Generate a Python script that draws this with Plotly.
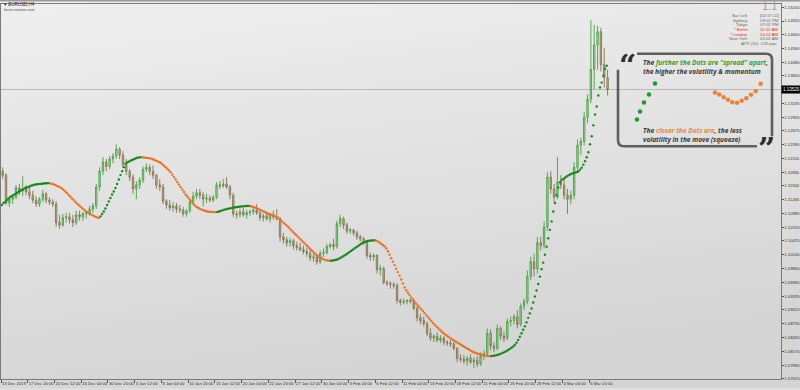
import base64
import plotly.graph_objects as go

# ---------------- data (EURUSD, 8h aggregation of the H4 chart) ----------------
bar_open = [
    1.1185, 1.1177, 1.1120, 1.1128, 1.1132, 1.1151, 1.1145, 1.1149, 1.1143, 1.1136,
    1.1126, 1.1118, 1.1128, 1.1139, 1.1126, 1.1122, 1.1118, 1.1080, 1.1075, 1.1090,
    1.1092, 1.1086, 1.1080, 1.1096, 1.1092, 1.1098, 1.1100, 1.1108, 1.1114, 1.1153,
    1.1185, 1.1204, 1.1195, 1.1210, 1.1216, 1.1230, 1.1218, 1.1199, 1.1185, 1.1173,
    1.1149, 1.1157, 1.1167, 1.1189, 1.1193, 1.1185, 1.1177, 1.1157, 1.1153, 1.1124,
    1.1116, 1.1110, 1.1114, 1.1108, 1.1106, 1.1098, 1.1104, 1.1122, 1.1134, 1.1141,
    1.1136, 1.1128, 1.1130, 1.1126, 1.1132, 1.1157, 1.1155, 1.1159, 1.1153, 1.1136,
    1.1098, 1.1096, 1.1102, 1.1096, 1.1100, 1.1102, 1.1106, 1.1100, 1.1090, 1.1094,
    1.1088, 1.1096, 1.1092, 1.1088, 1.1051, 1.1045, 1.1039, 1.1043, 1.1033, 1.1029,
    1.1025, 1.1021, 1.1017, 1.1008, 1.1010, 1.1000, 1.1017, 1.1019, 1.1031, 1.1035,
    1.1031, 1.1078, 1.1088, 1.1075, 1.1063, 1.1065, 1.1059, 1.1051, 1.1047, 1.1039,
    1.1013, 1.1010, 1.1013, 1.0984, 1.0986, 1.0958, 1.0956, 1.0954, 1.0952, 1.0921,
    1.0917, 1.0919, 1.0921, 1.0919, 1.0905, 1.0886, 1.0880, 1.0874, 1.0854, 1.0844,
    1.0848, 1.0840, 1.0844, 1.0836, 1.0834, 1.0832, 1.0823, 1.0803, 1.0801, 1.0797,
    1.0803, 1.0795, 1.0799, 1.0791, 1.0807, 1.0813, 1.0854, 1.0828, 1.0823, 1.0864,
    1.0848, 1.0844, 1.0878, 1.0880, 1.0888, 1.0872, 1.0909, 1.0919, 1.0970, 1.1000,
    1.0986, 1.1039, 1.1033, 1.1071, 1.1173, 1.1149, 1.1132, 1.1163, 1.1157, 1.1136,
    1.1128, 1.1136, 1.1193, 1.1238, 1.1246, 1.1295, 1.1332, 1.1393, 1.1443, 1.1470,
    1.1403, 1.1376,
]
bar_high = [
    1.1193, 1.1181, 1.1132, 1.1136, 1.1157, 1.1159, 1.1175, 1.1157, 1.1153, 1.1145,
    1.1134, 1.1132, 1.1147, 1.1143, 1.1132, 1.1128, 1.1124, 1.1096, 1.1098, 1.1100,
    1.1100, 1.1096, 1.1104, 1.1104, 1.1102, 1.1104, 1.1114, 1.1120, 1.1159, 1.1193,
    1.1214, 1.1210, 1.1216, 1.1222, 1.1240, 1.1234, 1.1226, 1.1210, 1.1189, 1.1179,
    1.1165, 1.1173, 1.1195, 1.1201, 1.1199, 1.1197, 1.1179, 1.1169, 1.1159, 1.1128,
    1.1126, 1.1122, 1.1120, 1.1116, 1.1112, 1.1108, 1.1128, 1.1143, 1.1149, 1.1149,
    1.1143, 1.1139, 1.1136, 1.1136, 1.1163, 1.1165, 1.1169, 1.1173, 1.1157, 1.1141,
    1.1104, 1.1108, 1.1110, 1.1106, 1.1106, 1.1112, 1.1118, 1.1108, 1.1098, 1.1102,
    1.1100, 1.1104, 1.1108, 1.1092, 1.1059, 1.1051, 1.1049, 1.1047, 1.1041, 1.1039,
    1.1033, 1.1029, 1.1027, 1.1017, 1.1015, 1.1023, 1.1027, 1.1037, 1.1039, 1.1047,
    1.1084, 1.1096, 1.1092, 1.1080, 1.1069, 1.1067, 1.1063, 1.1055, 1.1051, 1.1041,
    1.1019, 1.1017, 1.1015, 1.0994, 1.0990, 1.0962, 1.0960, 1.0958, 1.0956, 1.0925,
    1.0925, 1.0923, 1.0925, 1.0925, 1.0909, 1.0893, 1.0888, 1.0878, 1.0864, 1.0852,
    1.0856, 1.0850, 1.0848, 1.0840, 1.0840, 1.0836, 1.0826, 1.0811, 1.0809, 1.0807,
    1.0811, 1.0805, 1.0807, 1.0815, 1.0819, 1.0864, 1.0862, 1.0836, 1.0872, 1.0868,
    1.0858, 1.0884, 1.0888, 1.0893, 1.0901, 1.0915, 1.0925, 1.0982, 1.1010, 1.1017,
    1.1051, 1.1051, 1.1082, 1.1183, 1.1185, 1.1159, 1.1214, 1.1177, 1.1169, 1.1149,
    1.1145, 1.1204, 1.1250, 1.1254, 1.1307, 1.1342, 1.1494, 1.1484, 1.1482, 1.1478,
    1.1437, 1.1393,
]
bar_low = [
    1.1169, 1.1116, 1.1112, 1.1118, 1.1128, 1.1136, 1.1134, 1.1136, 1.1128, 1.1120,
    1.1112, 1.1112, 1.1122, 1.1120, 1.1116, 1.1112, 1.1071, 1.1067, 1.1071, 1.1080,
    1.1078, 1.1071, 1.1075, 1.1084, 1.1084, 1.1088, 1.1094, 1.1100, 1.1108, 1.1145,
    1.1177, 1.1185, 1.1189, 1.1201, 1.1210, 1.1210, 1.1193, 1.1177, 1.1165, 1.1139,
    1.1128, 1.1149, 1.1161, 1.1183, 1.1177, 1.1169, 1.1149, 1.1145, 1.1118, 1.1108,
    1.1104, 1.1102, 1.1100, 1.1100, 1.1092, 1.1092, 1.1100, 1.1116, 1.1128, 1.1128,
    1.1114, 1.1120, 1.1122, 1.1122, 1.1128, 1.1149, 1.1151, 1.1149, 1.1128, 1.1092,
    1.1088, 1.1090, 1.1092, 1.1088, 1.1094, 1.1096, 1.1096, 1.1084, 1.1082, 1.1084,
    1.1080, 1.1086, 1.1084, 1.1041, 1.1037, 1.1031, 1.1031, 1.1025, 1.1023, 1.1021,
    1.1015, 1.1010, 1.1002, 1.1000, 1.0994, 1.0996, 1.1010, 1.1015, 1.1027, 1.1023,
    1.1027, 1.1071, 1.1067, 1.1057, 1.1057, 1.1053, 1.1045, 1.1041, 1.1035, 1.1006,
    1.1002, 1.1002, 1.0976, 1.0972, 1.0954, 1.0950, 1.0945, 1.0945, 1.0915, 1.0911,
    1.0913, 1.0913, 1.0915, 1.0901, 1.0878, 1.0872, 1.0868, 1.0848, 1.0838, 1.0836,
    1.0836, 1.0834, 1.0830, 1.0828, 1.0826, 1.0819, 1.0795, 1.0795, 1.0791, 1.0787,
    1.0791, 1.0783, 1.0785, 1.0787, 1.0799, 1.0807, 1.0819, 1.0815, 1.0819, 1.0840,
    1.0836, 1.0840, 1.0868, 1.0872, 1.0864, 1.0868, 1.0901, 1.0913, 1.0962, 1.0970,
    1.0976, 1.1023, 1.1027, 1.1063, 1.1139, 1.1122, 1.1128, 1.1149, 1.1128, 1.1098,
    1.1118, 1.1128, 1.1185, 1.1218, 1.1238, 1.1283, 1.1324, 1.1352, 1.1393, 1.1389,
    1.1356, 1.1340,
]
bar_close = [
    1.1177, 1.1120, 1.1128, 1.1132, 1.1151, 1.1145, 1.1149, 1.1143, 1.1136, 1.1126,
    1.1118, 1.1128, 1.1139, 1.1126, 1.1122, 1.1118, 1.1080, 1.1075, 1.1090, 1.1092,
    1.1086, 1.1080, 1.1096, 1.1092, 1.1098, 1.1100, 1.1108, 1.1114, 1.1153, 1.1185,
    1.1204, 1.1195, 1.1210, 1.1216, 1.1230, 1.1218, 1.1199, 1.1185, 1.1173, 1.1149,
    1.1157, 1.1167, 1.1189, 1.1193, 1.1185, 1.1177, 1.1157, 1.1153, 1.1124, 1.1116,
    1.1110, 1.1114, 1.1108, 1.1106, 1.1098, 1.1104, 1.1122, 1.1134, 1.1141, 1.1136,
    1.1128, 1.1130, 1.1126, 1.1132, 1.1157, 1.1155, 1.1159, 1.1153, 1.1136, 1.1098,
    1.1096, 1.1102, 1.1096, 1.1100, 1.1102, 1.1106, 1.1100, 1.1090, 1.1094, 1.1088,
    1.1096, 1.1092, 1.1088, 1.1051, 1.1045, 1.1039, 1.1043, 1.1033, 1.1029, 1.1025,
    1.1021, 1.1017, 1.1008, 1.1010, 1.1000, 1.1017, 1.1019, 1.1031, 1.1035, 1.1031,
    1.1078, 1.1088, 1.1075, 1.1063, 1.1065, 1.1059, 1.1051, 1.1047, 1.1039, 1.1013,
    1.1010, 1.1013, 1.0984, 1.0986, 1.0958, 1.0956, 1.0954, 1.0952, 1.0921, 1.0917,
    1.0919, 1.0921, 1.0919, 1.0905, 1.0886, 1.0880, 1.0874, 1.0854, 1.0844, 1.0848,
    1.0840, 1.0844, 1.0836, 1.0834, 1.0832, 1.0823, 1.0803, 1.0801, 1.0797, 1.0803,
    1.0795, 1.0799, 1.0791, 1.0807, 1.0813, 1.0854, 1.0828, 1.0823, 1.0864, 1.0848,
    1.0844, 1.0878, 1.0880, 1.0888, 1.0872, 1.0909, 1.0919, 1.0970, 1.1000, 1.0986,
    1.1039, 1.1033, 1.1071, 1.1173, 1.1149, 1.1132, 1.1163, 1.1157, 1.1136, 1.1128,
    1.1136, 1.1193, 1.1238, 1.1246, 1.1295, 1.1332, 1.1393, 1.1443, 1.1470, 1.1403,
    1.1376, 1.1352,
]

# indicator dots, one per H4 bar
indicator_dots = [
    1.11161, 1.11202, 1.11222, 1.11263, 1.11293, 1.11324, 1.11344, 1.11365, 1.11385, 1.11405,
    1.11426, 1.11446, 1.11466, 1.11486, 1.11507, 1.11517, 1.11527, 1.11548, 1.11558, 1.11568,
    1.11578, 1.11584, 1.11588, 1.11592, 1.11596, 1.11600, 1.11604, 1.11606, 1.11608, 1.11602,
    1.11592, 1.11582, 1.11568, 1.11552, 1.11535, 1.11521, 1.11497, 1.11466, 1.11436, 1.11405,
    1.11365, 1.11334, 1.11293, 1.11263, 1.11222, 1.11192, 1.11161, 1.11131, 1.11100, 1.11070,
    1.11039, 1.11019, 1.10995, 1.10974, 1.10954, 1.10938, 1.10921, 1.10907, 1.10897, 1.10927,
    1.10978, 1.11029, 1.11090, 1.11161, 1.11232, 1.11304, 1.11375, 1.11436, 1.11507, 1.11588,
    1.11680, 1.11771, 1.11852, 1.11934, 1.12005, 1.12031, 1.12045, 1.12066, 1.12080, 1.12096,
    1.12111, 1.12125, 1.12133, 1.12137, 1.12135, 1.12131, 1.12127, 1.12123, 1.12119, 1.12113,
    1.12100, 1.12086, 1.12070, 1.12056, 1.12041, 1.12025, 1.11995, 1.11964, 1.11934, 1.11903,
    1.11873, 1.11832, 1.11781, 1.11731, 1.11680, 1.11629, 1.11578, 1.11527, 1.11476, 1.11426,
    1.11375, 1.11334, 1.11293, 1.11253, 1.11212, 1.11171, 1.11135, 1.11114, 1.11094, 1.11076,
    1.11060, 1.11047, 1.11037, 1.11029, 1.11023, 1.11019, 1.11017, 1.11015, 1.11014, 1.11019,
    1.11029, 1.11039, 1.11051, 1.11062, 1.11072, 1.11080, 1.11088, 1.11096, 1.11102, 1.11108,
    1.11114, 1.11121, 1.11125, 1.11129, 1.11133, 1.11137, 1.11139, 1.11141, 1.11143, 1.11135,
    1.11125, 1.11114, 1.11102, 1.11088, 1.11072, 1.11056, 1.11039, 1.11023, 1.11007, 1.10993,
    1.10978, 1.10964, 1.10950, 1.10936, 1.10921, 1.10907, 1.10877, 1.10846, 1.10816, 1.10785,
    1.10755, 1.10724, 1.10690, 1.10653, 1.10618, 1.10584, 1.10551, 1.10519, 1.10484, 1.10450,
    1.10417, 1.10383, 1.10348, 1.10316, 1.10281, 1.10246, 1.10214, 1.10181, 1.10149, 1.10120,
    1.10098, 1.10078, 1.10059, 1.10045, 1.10033, 1.10025, 1.10021, 1.10023, 1.10027, 1.10033,
    1.10041, 1.10053, 1.10069, 1.10088, 1.10108, 1.10129, 1.10151, 1.10173, 1.10198, 1.10222,
    1.10246, 1.10271, 1.10295, 1.10320, 1.10342, 1.10364, 1.10385, 1.10401, 1.10415, 1.10425,
    1.10431, 1.10435, 1.10437, 1.10439, 1.10433, 1.10417, 1.10393, 1.10368, 1.10342, 1.10316,
    1.10277, 1.10216, 1.10145, 1.10074, 1.10003, 1.09932, 1.09860, 1.09789, 1.09718, 1.09637,
    1.09555, 1.09474, 1.09417, 1.09368, 1.09320, 1.09271, 1.09224, 1.09183, 1.09145, 1.09108,
    1.09069, 1.09031, 1.08992, 1.08951, 1.08911, 1.08870, 1.08831, 1.08791, 1.08750, 1.08716,
    1.08681, 1.08647, 1.08612, 1.08580, 1.08547, 1.08523, 1.08499, 1.08474, 1.08450, 1.08425,
    1.08401, 1.08381, 1.08360, 1.08340, 1.08320, 1.08299, 1.08279, 1.08259, 1.08238, 1.08218,
    1.08198, 1.08177, 1.08159, 1.08145, 1.08133, 1.08120, 1.08110, 1.08100, 1.08092, 1.08084,
    1.08078, 1.08074, 1.08072, 1.08074, 1.08078, 1.08084, 1.08092, 1.08102, 1.08114, 1.08128,
    1.08143, 1.08159, 1.08177, 1.08198, 1.08220, 1.08245, 1.08271, 1.08299, 1.08346, 1.08401,
    1.08468, 1.08539, 1.08610, 1.08681, 1.08763, 1.08854, 1.08946, 1.09047, 1.09169, 1.09291,
    1.09413, 1.09545, 1.09697, 1.09850, 1.09982, 1.10145, 1.10307, 1.10480, 1.10653, 1.10825,
    1.11029, 1.11202, 1.11364, 1.11517, 1.11628, 1.11669, 1.11694, 1.11718, 1.11742, 1.11765,
    1.11785, 1.11799, 1.11812, 1.11822, 1.11832, 1.11844, 1.11883, 1.11923, 1.11985, 1.12056,
    1.12137, 1.12239, 1.12401, 1.12564, 1.12788, 1.13011, 1.13174, 1.13398, 1.13560, 1.13662,
    1.13804, 1.13946, 1.14007,
]

time_labels = [
    "13 Dec 2019", "17 Dec 20:00", "20 Dec 12:00", "26 Dec 04:00", "30 Dec 20:00",
    "3 Jan 12:00", "8 Jan 04:00", "10 Jan 20:00", "15 Jan 12:00", "20 Jan 04:00",
    "22 Jan 20:00", "27 Jan 12:00", "30 Jan 04:00", "3 Feb 20:00", "6 Feb 12:00",
    "11 Feb 04:00", "13 Feb 20:00", "18 Feb 12:00", "21 Feb 04:00", "25 Feb 20:00",
    "28 Feb 12:00", "4 Mar 04:00", "6 Mar 20:00",
]
price_ticks = [
    1.07610, 1.07890, 1.08170, 1.08455, 1.08735, 1.09015, 1.09295, 1.09580, 1.09860,
    1.10140, 1.10425, 1.10705, 1.10985, 1.11265, 1.11550, 1.11830, 1.12110, 1.12390,
    1.12675, 1.12955, 1.13235, 1.13515, 1.13800, 1.14080, 1.14360, 1.14640, 1.14920,
    1.15200,
]

# small illustration dots inside the callout (callout pixel space)
callout_fast_x = [637, 640, 644, 649, 655]
callout_fast_y = [120, 112, 103, 95, 84]
callout_slow_x = [715, 719.3, 723.7, 728, 732.3, 737, 741.7, 746.3, 751, 755.7, 760.7]
callout_slow_y = [93, 95, 97.7, 100.3, 102.7, 103.3, 101.3, 98.7, 95.3, 91.7, 84.3]

info_labels = ["Bar Left", "Sydney", "Tokyo", "* Berlin", "* London", "New York"]
info_values = ["[02:57:22]", "09:02 PM", "07:02 PM", "11:02 AM", "10:02 AM", "05:02 AM"]
info_red = [False, False, False, True, True, False]

# ---------------- layout geometry ----------------
W, H = 800, 390
PX_LEFT, PX_RIGHT = 1.0, 780.5
PX_TOP, PX_BOTTOM = 4.0, 381.0
BAR_PX = 3.342
Y_RANGE = [1.07604, 1.15268]

GREEN = "#13891a"
ORANGE = "#ec7026"
TXT = "#333333"
SMALL_FONT = "Liberation Sans, Arial, sans-serif"

bar_x = [i + 0.5 for i in range(len(bar_close))]
dot_x = [0.25 + 0.5 * j for j in range(len(indicator_dots))]
dot_colors = []
for j, v in enumerate(indicator_dots):
    prev = indicator_dots[j - 1] if j > 0 else indicator_dots[0] - 1
    dot_colors.append(GREEN if v >= prev else ORANGE)

fig = go.Figure()

fig.add_trace(go.Candlestick(
    x=bar_x, open=bar_open, high=bar_high, low=bar_low, close=bar_close,
    increasing=dict(line=dict(color="#48a042", width=0.9), fillcolor="rgba(150,200,140,0.5)"),
    decreasing=dict(line=dict(color="#85744f", width=0.9), fillcolor="rgba(160,150,120,0.5)"),
    whiskerwidth=0, showlegend=False, hoverinfo="skip",
))

fig.add_trace(go.Scatter(
    x=dot_x, y=indicator_dots, mode="markers",
    marker=dict(size=2.4, color=dot_colors, line=dict(width=0)),
    showlegend=False, hoverinfo="skip",
))

# callout dots on an overlay pixel-space axis pair
fig.add_trace(go.Scatter(
    x=callout_fast_x, y=callout_fast_y, xaxis="x2", yaxis="y2", mode="markers",
    marker=dict(size=4.5, color="#1f9a22"), showlegend=False, hoverinfo="skip",
))
fig.add_trace(go.Scatter(
    x=callout_slow_x, y=callout_slow_y, xaxis="x2", yaxis="y2", mode="markers",
    marker=dict(size=4.5, color="#e9823d"), showlegend=False, hoverinfo="skip",
))

svg = (
    "<svg xmlns='http://www.w3.org/2000/svg' width='800' height='390'>"
    "<defs><linearGradient id='g' x1='0' y1='0' x2='0.25' y2='1'>"
    "<stop offset='0' stop-color='#efefef'/><stop offset='1' stop-color='#d5d5d5'/>"
    "</linearGradient></defs><rect width='800' height='390' fill='url(#g)'/></svg>"
)
bg_uri = "data:image/svg+xml;base64," + base64.b64encode(svg.encode()).decode()

shapes = [
    # current bid line
    dict(type="line", xref="paper", yref="y", x0=PX_LEFT / W, x1=PX_RIGHT / W,
         y0=bar_close[-1], y1=bar_close[-1], line=dict(color="#b9b9b9", width=1), layer="below"),
    # top strip
    dict(type="rect", xref="x2", yref="y2", x0=0, x1=800, y0=0, y1=1.5,
         fillcolor="#9a9a9a", line=dict(width=0)),
    # callout outline (two pieces, broken by the quote marks)
    dict(type="path", xref="x2", yref="y2",
         path="M 637,54 L 766,54 Q 772,54 772,60 L 772,137",
         line=dict(color="#5f5f5f", width=2.6)),
    dict(type="path", xref="x2", yref="y2",
         path="M 618,70 L 618,141 Q 618,147 624,147 L 757,147",
         line=dict(color="#5f5f5f", width=2.6)),
]

annotations = [
    dict(xref="x2", yref="y2", x=2, y=5, xanchor="left", yanchor="middle", showarrow=False,
         text="\u25be EURUSD,H4", font=dict(size=4.5, color="#202020", family=SMALL_FONT)),
    dict(xref="x2", yref="y2", x=2, y=10, xanchor="left", yanchor="middle", showarrow=False,
         text="forex-station.com", font=dict(size=4, color="#505050", family=SMALL_FONT)),
    dict(xref="x2", yref="y2", x=779, y=6.5, xanchor="right", yanchor="middle", showarrow=False,
         text="1.1", font=dict(size=11, color="#9c9c9c", family=SMALL_FONT)),
    dict(xref="x2", yref="y2", x=779, y=43.8, xanchor="right", yanchor="middle", showarrow=False,
         text="ATR (20): 129 pips", font=dict(size=4.3, color="#6a6a6a", family=SMALL_FONT)),
    # current price box
    dict(xref="x2", yref="y", x=781, y=bar_close[-1], xanchor="left", yanchor="middle",
         showarrow=False, text=f"{bar_close[-1]:.5f}", bgcolor="#000000", borderpad=1,
         font=dict(size=4.5, color="#ffffff", family=SMALL_FONT)),
    # quote marks
    dict(xref="x2", yref="y2", x=627, y=66, xanchor="center", yanchor="middle", showarrow=False,
         text="<b>\u201c</b>", font=dict(size=30, color="#2e2e2e", family="DejaVu Serif")),
    dict(xref="x2", yref="y2", x=766, y=149, xanchor="center", yanchor="middle", showarrow=False,
         text="<b>\u201d</b>", font=dict(size=30, color="#2e2e2e", family="DejaVu Serif")),
    # callout texts
    dict(xref="x2", yref="y2", x=641, y=63, xanchor="left", yanchor="middle", showarrow=False,
         text="<b><i>The <span style='color:#45992f'>further the Dots are \"spread\" apart</span>,</i></b>",
         font=dict(size=6.6, color="#3a3a3a", family="Open Sans")),
    dict(xref="x2", yref="y2", x=641, y=71.5, xanchor="left", yanchor="middle", showarrow=False,
         text="<b><i>the higher the volatility &amp; momentum</i></b>",
         font=dict(size=6.6, color="#3a3a3a", family="Open Sans")),
    dict(xref="x2", yref="y2", x=641, y=131.5, xanchor="left", yanchor="middle", showarrow=False,
         text="<b><i>The <span style='color:#ea8845'>closer the Dots are</span>, the less</i></b>",
         font=dict(size=6.6, color="#3a3a3a", family="Open Sans")),
    dict(xref="x2", yref="y2", x=641, y=140, xanchor="left", yanchor="middle", showarrow=False,
         text="<b><i>volatility in the move (squeeze)</i></b>",
         font=dict(size=6.6, color="#3a3a3a", family="Open Sans")),
]
row_y = [15.5, 20.2, 24.9, 29.6, 34.3, 39.0]
for k, (lab, val, red) in enumerate(zip(info_labels, info_values, info_red)):
    col = "#f21d1d" if red else "#6a6a6a"
    annotations.append(dict(xref="x2", yref="y2", x=750, y=row_y[k], xanchor="right",
                            yanchor="middle", showarrow=False, text=lab,
                            font=dict(size=4.3, color=col, family=SMALL_FONT)))
    annotations.append(dict(xref="x2", yref="y2", x=758, y=row_y[k], xanchor="left",
                            yanchor="middle", showarrow=False, text=val,
                            font=dict(size=4.3, color=col, family=SMALL_FONT)))

fig.update_layout(
    width=W, height=H,
    margin=dict(l=0, r=0, t=0, b=0),
    paper_bgcolor="#dedede",
    plot_bgcolor="rgba(0,0,0,0)",
    showlegend=False,
    hovermode=False,
    boxgap=0.4,
    images=[dict(source=bg_uri, xref="paper", yref="paper", x=0, y=1, sizex=1, sizey=1,
                 sizing="stretch", layer="below")],
    xaxis=dict(
        domain=[PX_LEFT / W, PX_RIGHT / W],
        range=[0, (PX_RIGHT - PX_LEFT) / BAR_PX],
        rangeslider=dict(visible=False),
        tickmode="array", tickvals=[8 * k for k in range(len(time_labels))], ticktext=time_labels,
        tickangle=0,
        ticks="outside", ticklen=3, tickcolor="#555555", tickwidth=1,
        ticklabelposition="outside right",
        tickfont=dict(size=4.2, color=TXT, family=SMALL_FONT),
        showgrid=False, zeroline=False,
        showline=True, linecolor="#7a7a7a", linewidth=1, mirror=True,
        fixedrange=True,
    ),
    yaxis=dict(
        domain=[(H - PX_BOTTOM) / H, (H - PX_TOP) / H],
        range=Y_RANGE,
        side="right",
        tickmode="array", tickvals=price_ticks, ticktext=[f"{v:.5f}" for v in price_ticks],
        ticks="outside", ticklen=2, tickcolor="#555555",
        tickfont=dict(size=4.2, color=TXT, family=SMALL_FONT),
        showgrid=False, zeroline=False,
        showline=True, linecolor="#7a7a7a", linewidth=1, mirror=True,
        fixedrange=True,
    ),
    xaxis2=dict(domain=[0, 1], range=[0, W], anchor="y2", visible=False, fixedrange=True),
    yaxis2=dict(domain=[0, 1], range=[H, 0], anchor="x2", visible=False, fixedrange=True),
    shapes=shapes,
    annotations=annotations,
)

fig.write_html(
    "out.html",
    config={"displayModeBar": False},
    post_script=(
        "document.body.style.margin='0';document.body.style.padding='0';"
        "document.body.style.overflow='hidden';"
        "document.documentElement.style.overflow='hidden';"
    ),
)
